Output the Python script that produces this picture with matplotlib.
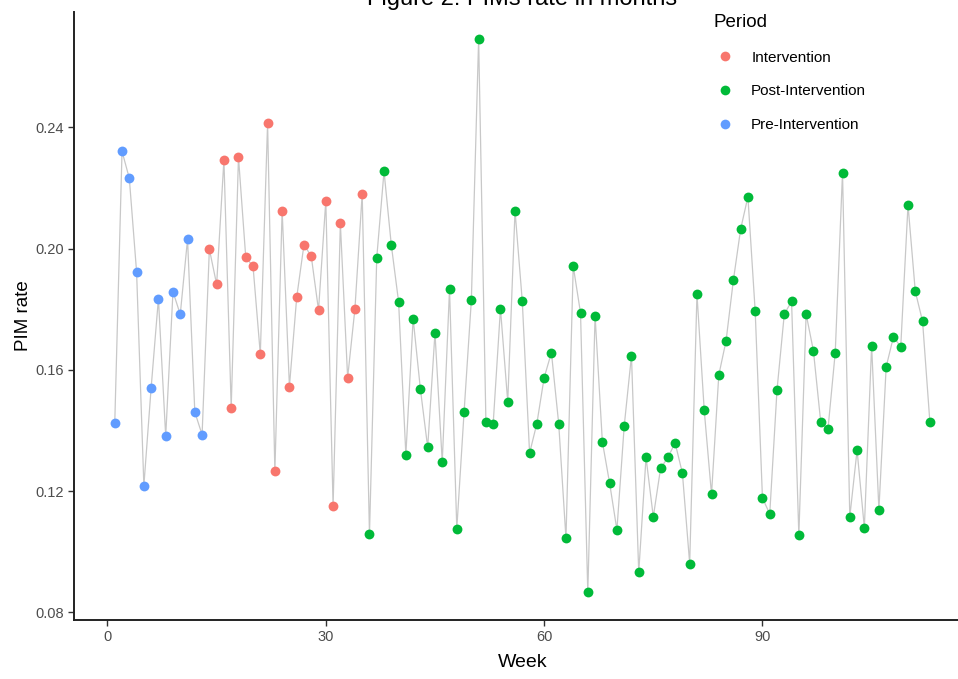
import matplotlib
matplotlib.use("Agg")
import matplotlib.pyplot as plt
from matplotlib.lines import Line2D
import numpy as np

plt.rcParams['font.family'] = ['Liberation Sans', 'DejaVu Sans']

# PIM rate per week, split by study period
pre_weeks = list(range(1, 14))
pre_rate = [0.1424, 0.2321, 0.2232, 0.1923, 0.1218, 0.1541, 0.1835, 0.1381,
            0.1858, 0.1783, 0.2031, 0.1461, 0.1386]

int_weeks = list(range(14, 36))
int_rate = [0.1998, 0.1882, 0.2293, 0.1475, 0.2302, 0.1971, 0.1942, 0.1652,
            0.2414, 0.1265, 0.2125, 0.1545, 0.1839, 0.2013, 0.1975, 0.1797,
            0.2158, 0.1151, 0.2083, 0.1574, 0.1801, 0.2181]

post_weeks = list(range(36, 114))
post_rate = [0.1058, 0.1970, 0.2255, 0.2012, 0.1825, 0.1320, 0.1769, 0.1536,
             0.1344, 0.1722, 0.1296, 0.1866, 0.1076, 0.1461, 0.1830, 0.2691,
             0.1428, 0.1423, 0.1802, 0.1494, 0.2125, 0.1826, 0.1325, 0.1423,
             0.1574, 0.1657, 0.1423, 0.1044, 0.1942, 0.1788, 0.0866, 0.1779,
             0.1363, 0.1226, 0.1072, 0.1414, 0.1647, 0.0932, 0.1311, 0.1115,
             0.1275, 0.1311, 0.1359, 0.1259, 0.0961, 0.1850, 0.1466, 0.1189,
             0.1583, 0.1696, 0.1895, 0.2064, 0.2171, 0.1794, 0.1177, 0.1125,
             0.1534, 0.1784, 0.1826, 0.1055, 0.1784, 0.1663, 0.1429, 0.1404,
             0.1657, 0.2251, 0.1115, 0.1335, 0.1079, 0.1680, 0.1139, 0.1610,
             0.1709, 0.1676, 0.2144, 0.1859, 0.1760, 0.1429]

periods = ["Intervention", "Post-Intervention", "Pre-Intervention"]
colors = {"Intervention": "#F8766D", "Post-Intervention": "#00BA38",
          "Pre-Intervention": "#619CFF"}

x_ticks = [0, 30, 60, 90]
y_ticks = [0.08, 0.12, 0.16, 0.20, 0.24]

weeks = np.array(pre_weeks + int_weeks + post_weeks)
rate = np.array(pre_rate + int_rate + post_rate)

fig = plt.figure(figsize=(9.58, 6.79), dpi=100)
ax = fig.add_axes([74 / 958, 59 / 679, 896.6 / 958, 608.5 / 679])

ax.plot(weeks, rate, color="#c8c8c8", lw=0.9, zorder=1)
ax.scatter(pre_weeks, pre_rate, s=50, color=colors["Pre-Intervention"], zorder=2, lw=0)
ax.scatter(int_weeks, int_rate, s=50, color=colors["Intervention"], zorder=2, lw=0)
ax.scatter(post_weeks, post_rate, s=50, color=colors["Post-Intervention"], zorder=2, lw=0)

# ggplot style 5% expansion
xr = weeks.max() - weeks.min()
yr = rate.max() - rate.min()
ax.set_xlim(weeks.min() - 0.05 * xr, weeks.max() + 0.05 * xr)
ax.set_ylim(rate.min() - 0.05 * yr, rate.max() + 0.05 * yr)

ax.set_xticks(x_ticks)
ax.set_yticks(y_ticks)
ax.set_yticklabels(["%.2f" % v for v in y_ticks])
ax.tick_params(colors="#333333", labelcolor="#4d4d4d", labelsize=10.5,
               length=4, width=1)

for s in ["top", "right"]:
    ax.spines[s].set_visible(False)
for s in ["left", "bottom"]:
    ax.spines[s].set_linewidth(1.4)
    ax.spines[s].set_color("#222222")

ax.set_xlabel("Week", fontsize=14, labelpad=7)
ax.set_ylabel("PIM rate", fontsize=13.5, labelpad=2)
# title sits mostly above the top edge, as in the cropped original
fig.text(522 / 958, 1 - 5 / 679, "Figure 2: PIMs rate in months",
         fontsize=17, ha="center", va="baseline")

handles = [Line2D([], [], ls="", marker="o", ms=7, mec="none",
                  color=colors[p]) for p in periods]
leg = fig.legend(handles, periods, loc="upper left",
                 bbox_to_anchor=(700 / 958, 1 - 0 / 679),
                 frameon=False, fontsize=11, title="Period",
                 title_fontsize=13.5, labelspacing=1.3,
                 handletextpad=0.95, handlelength=1.5)
leg._legend_box.align = "left"

fig.savefig("out.png", dpi=100)
